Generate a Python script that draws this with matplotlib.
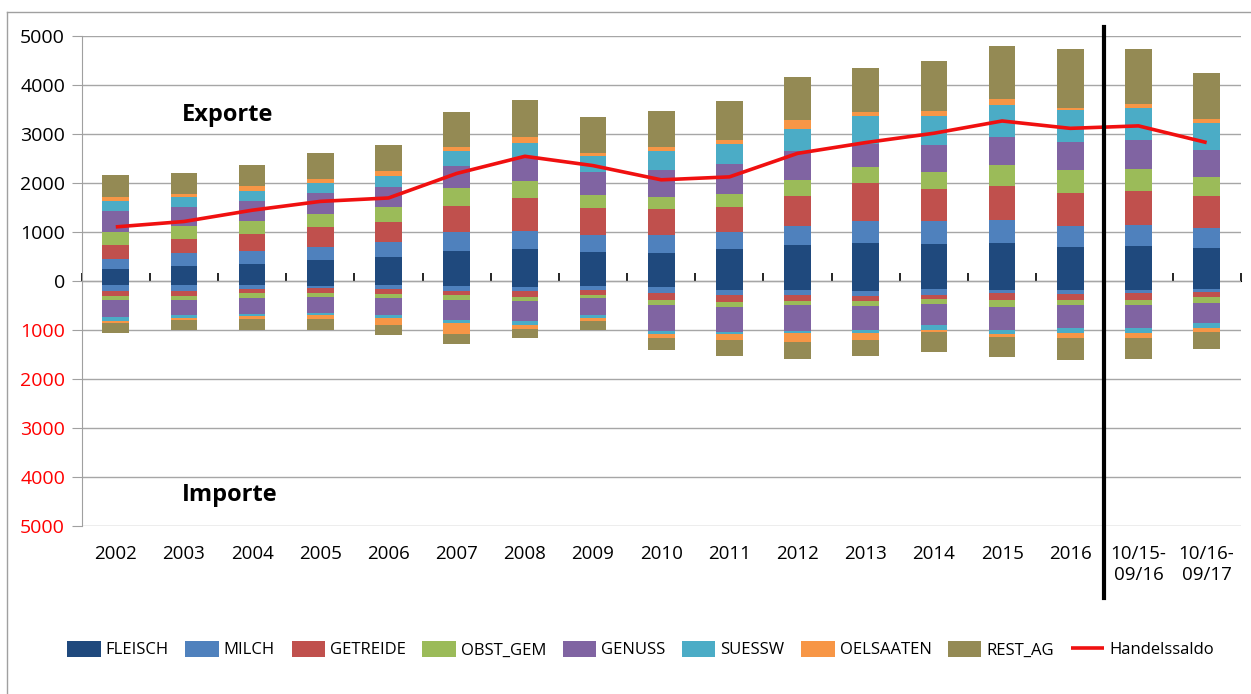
import matplotlib
matplotlib.use("Agg")
import matplotlib.pyplot as plt
from matplotlib.lines import Line2D
import numpy as np

plt.rcParams['font.family'] = ['Open Sans', 'DejaVu Sans']

categories = ["2002", "2003", "2004", "2005", "2006", "2007", "2008", "2009",
              "2010", "2011", "2012", "2013", "2014", "2015", "2016",
              "10/15-\n09/16", "10/16-\n09/17"]

series_names = ["FLEISCH", "MILCH", "GETREIDE", "OBST_GEM", "GENUSS",
                "SUESSW", "OELSAATEN", "REST_AG"]
colors = ["#1F497D", "#4F81BD", "#C0504D", "#9BBB59", "#8064A2",
          "#4BACC6", "#F79646", "#948A54"]

# Exports (per product group)
exp_fleisch  = [250, 300, 345, 420, 495, 610, 640, 590, 570, 640, 735, 780, 755, 780, 690, 705, 665]
exp_milch    = [200, 265, 260, 280, 305, 380, 380, 340, 355, 355, 380, 435, 465, 455, 430, 435, 420]
exp_getreide = [280, 285, 340, 395, 395, 540, 675, 550, 540, 510, 605, 780, 650, 700, 680, 700, 635]
exp_obst_gem = [265, 270, 270, 260, 315, 360, 335, 265, 240, 275, 335, 330, 355, 435, 455, 435, 390]
exp_genuss   = [435, 380, 420, 435, 410, 455, 475, 475, 555, 600, 590, 475, 545, 560, 580, 605, 560]
exp_suessw   = [195, 200, 200, 205, 210, 300, 300, 320, 385, 410, 455, 560, 600, 655, 655, 655, 550]
exp_oelsaat  = [75, 75, 100, 90, 100, 90, 120, 70, 90, 75, 170, 75, 95, 115, 40, 70, 80]
exp_rest_ag  = [455, 430, 435, 530, 550, 700, 755, 730, 730, 795, 885, 910, 1010, 1090, 1190, 1130, 930]

# Imports (per product group, shown downward)
imp_fleisch  = [90, 90, 90, 110, 90, 110, 125, 110, 135, 190, 190, 210, 160, 180, 190, 180, 160]
imp_milch    = [115, 115, 80, 45, 70, 95, 90, 70, 110, 90, 90, 95, 120, 75, 70, 75, 70]
imp_getreide = [110, 110, 75, 90, 105, 90, 105, 105, 155, 145, 125, 115, 95, 130, 125, 130, 105]
imp_obst_gem = [85, 85, 105, 95, 95, 90, 85, 75, 90, 115, 95, 95, 100, 145, 115, 115, 125]
imp_genuss   = [345, 295, 325, 315, 345, 405, 420, 340, 535, 505, 525, 485, 430, 465, 465, 465, 410]
imp_suessw   = [70, 55, 40, 40, 50, 75, 70, 50, 50, 30, 40, 70, 90, 90, 95, 90, 90]
imp_oelsaat  = [50, 50, 55, 75, 145, 215, 90, 70, 90, 125, 190, 130, 50, 55, 100, 105, 75]
imp_rest_ag  = [190, 200, 230, 230, 210, 215, 180, 185, 255, 340, 330, 335, 415, 405, 455, 430, 365]

handelssaldo = [1100, 1210, 1440, 1620, 1690, 2190, 2540, 2350, 2060, 2120,
                2600, 2820, 3010, 3260, 3110, 3160, 2820]

exports = [exp_fleisch, exp_milch, exp_getreide, exp_obst_gem, exp_genuss,
           exp_suessw, exp_oelsaat, exp_rest_ag]
imports = [imp_fleisch, imp_milch, imp_getreide, imp_obst_gem, imp_genuss,
           imp_suessw, imp_oelsaat, imp_rest_ag]

fig = plt.figure(figsize=(12.51, 6.94), dpi=100)
ax = fig.add_axes([0.0653, 0.2421, 0.9265, 0.7065])

x = np.arange(len(categories))
bw = 0.39
bottom_e = np.zeros(len(x))
bottom_i = np.zeros(len(x))
handles = []
for name, col, ev, iv in zip(series_names, colors, exports, imports):
    ev = np.array(ev, dtype=float)
    iv = np.array(iv, dtype=float)
    h = ax.bar(x, ev, bw, bottom=bottom_e, color=col, label=name, zorder=3, linewidth=0)
    ax.bar(x, -iv, bw, bottom=-bottom_i, color=col, zorder=3, linewidth=0)
    bottom_e += ev
    bottom_i += iv
    handles.append(h)

ln, = ax.plot(x, handelssaldo, color="#F01010", lw=2.6, zorder=5, label="Handelssaldo",
              solid_capstyle='butt')
handles.append(ln)

ax.set_xlim(-0.5, len(categories) - 0.5)
ax.set_ylim(-5000, 5000)
yt = np.arange(-5000, 5001, 1000)
ax.set_yticks(yt)
ax.set_yticklabels([str(abs(v)) for v in yt], fontsize=14)
for lbl, v in zip(ax.get_yticklabels(), yt):
    lbl.set_color("#FF0000" if v < 0 else "#000000")
ax.tick_params(axis='y', length=7, color="#A0A0A0", pad=5)
ax.yaxis.grid(True, color="#A6A6A6", lw=1.0, zorder=0)
ax.set_axisbelow(True)

ax.set_xticks(x)
ax.set_xticklabels(categories, fontsize=13.5)
ax.tick_params(axis='x', length=0, pad=14)

for s in ['top', 'right', 'bottom']:
    ax.spines[s].set_visible(False)
ax.spines['left'].set_color("#A0A0A0")

# zero axis with category-boundary ticks
sec = ax.secondary_xaxis(0.5)
sec.set_xticks(np.arange(-0.5, len(categories), 1.0))
sec.set_xticklabels([])
sec.tick_params(axis='x', direction='out', length=6, width=1.2, color='black')
sec.spines['bottom'].set_color('black')
sec.spines['bottom'].set_linewidth(1.3)

# separator line
ax.axvline(14.5, ymin=-0.147, ymax=1.018, color='black', lw=3, clip_on=False, zorder=6)

ax.text(0.126, 0.838, "Exporte", transform=ax.transAxes, ha='center', va='center',
        fontsize=17, fontweight='bold')
ax.text(0.128, 0.063, "Importe", transform=ax.transAxes, ha='center', va='center',
        fontsize=17, fontweight='bold')

leg = fig.legend(handles=handles, labels=series_names + ["Handelssaldo"],
                 loc='center', bbox_to_anchor=(0.512, 0.064), ncol=9, frameon=False,
                 fontsize=12, handlelength=2.0, handleheight=1.1, handletextpad=0.3,
                 columnspacing=1.0)

# chart-area border
fig.add_artist(Line2D([7/1251, 1.0], [1 - 12/694, 1 - 12/694], color="#A0A0A0", lw=1))
fig.add_artist(Line2D([7/1251, 7/1251], [0, 1 - 12/694], color="#A0A0A0", lw=1))

fig.savefig("out.png", dpi=100)
